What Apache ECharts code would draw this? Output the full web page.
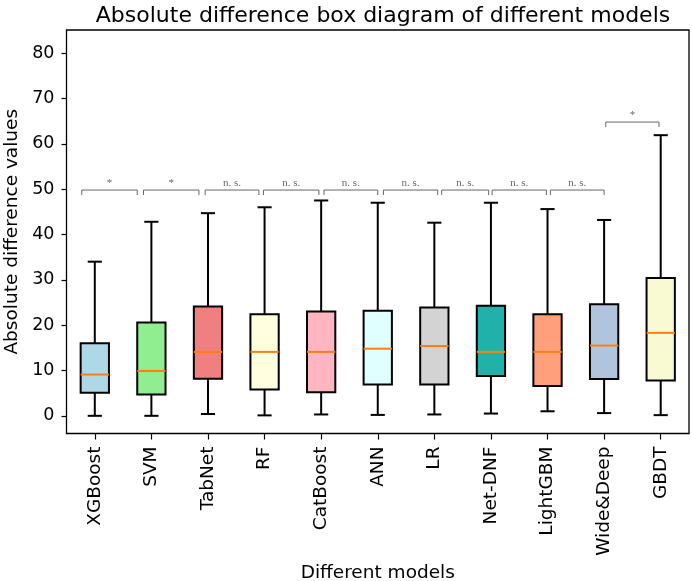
<!DOCTYPE html>
<html>
<head>
    <meta charset="UTF-8">
    <script src="https://cdn.jsdelivr.net/npm/echarts@6/dist/echarts.min.js"></script>
    <style>
        html, body { margin: 0; padding: 0; background: #fff; }
        #main { width: 692px; height: 581px; }
    </style>
</head>
<body>
<div id="main"></div>
<script>
    // models on the x axis
    var categories = ['XGBoost', 'SVM', 'TabNet', 'RF', 'CatBoost', 'ANN', 'LR', 'Net-DNF', 'LightGBM', 'Wide&Deep', 'GBDT'];
    // five-number summaries
    var whiskerLow  = [0.0, 0.0, 0.4, 0.1, 0.3, 0.2, 0.3, 0.5, 1.0, 0.6, 0.15];
    var q1Values    = [5.1, 4.7, 8.2, 5.8, 5.2, 6.9, 6.9, 8.8, 6.6, 8.1, 7.8];
    var medians     = [9.1, 9.9, 14.1, 14.1, 14.1, 14.8, 15.4, 14.1, 14.1, 15.5, 18.3];
    var q3Values    = [16.0, 20.6, 24.1, 22.4, 23.0, 23.2, 23.9, 24.3, 22.4, 24.6, 30.4];
    var whiskerHigh = [34.0, 42.8, 44.7, 46.0, 47.5, 47.0, 42.6, 47.0, 45.6, 43.2, 61.9];
    var boxColors   = ['#add8e6', '#90ee90', '#f08080', '#ffffe0', '#ffb6c1', '#e0ffff',
                       '#d3d3d3', '#20b2aa', '#ffa07a', '#b0c4de', '#fafad2'];

    // significance brackets (x in category index units)
    var bracketStart = [-0.23, 0.86, 1.95, 2.98, 4.05, 5.10, 6.13, 7.02, 8.05, 9.03];
    var bracketEnd   = [0.75, 1.84, 2.90, 3.96, 5.00, 6.06, 6.96, 7.98, 9.00, 9.97];
    var bracketLevel = [49.8, 49.8, 49.8, 49.8, 49.8, 49.8, 49.8, 49.8, 49.8, 64.8];
    var bracketText  = ['*', '*', 'n. s.', 'n. s.', 'n. s.', 'n. s.', 'n. s.', 'n. s.', 'n. s.', '*'];

    var yTicks = [0, 10, 20, 30, 40, 50, 60, 70, 80];

    var boxData = categories.map(function (c, i) {
        return [i, whiskerLow[i], q1Values[i], medians[i], q3Values[i], whiskerHigh[i]];
    });
    var bracketData = bracketStart.map(function (s, i) {
        return [s, bracketEnd[i], bracketLevel[i], bracketText[i]];
    });

    var lineW = 2;

    function renderBox(params, api) {
        var idx = api.value(0);
        var band = api.size([1, 0])[0];
        var half = band * 0.25;
        var capHalf = band * 0.125;
        var pLow = api.coord([idx, api.value(1)]);
        var pQ1 = api.coord([idx, api.value(2)]);
        var pMed = api.coord([idx, api.value(3)]);
        var pQ3 = api.coord([idx, api.value(4)]);
        var pHigh = api.coord([idx, api.value(5)]);
        var x = pLow[0];
        var black = {stroke: '#000', lineWidth: lineW, fill: null};
        return {
            type: 'group',
            children: [
                {type: 'line', shape: {x1: x, y1: pQ1[1], x2: x, y2: pLow[1]}, style: black},
                {type: 'line', shape: {x1: x, y1: pQ3[1], x2: x, y2: pHigh[1]}, style: black},
                {type: 'line', shape: {x1: x - capHalf, y1: pLow[1], x2: x + capHalf, y2: pLow[1]}, style: black},
                {type: 'line', shape: {x1: x - capHalf, y1: pHigh[1], x2: x + capHalf, y2: pHigh[1]}, style: black},
                {
                    type: 'rect',
                    shape: {x: x - half, y: pQ3[1], width: half * 2, height: pQ1[1] - pQ3[1]},
                    style: {fill: boxColors[idx], stroke: '#000', lineWidth: lineW}
                },
                {
                    type: 'line',
                    shape: {x1: x - half, y1: pMed[1], x2: x + half, y2: pMed[1]},
                    style: {stroke: '#ff7f0e', lineWidth: 2}
                }
            ]
        };
    }

    function renderBracket(params, api) {
        var a = api.coord([api.value(0), api.value(2)]);
        var b = api.coord([api.value(1), api.value(2)]);
        var drop = 5;
        var label = bracketText[params.dataIndex];
        return {
            type: 'group',
            children: [
                {
                    type: 'polyline',
                    shape: {points: [[a[0], a[1] + drop], [a[0], a[1]], [b[0], b[1]], [b[0], b[1] + drop]]},
                    style: {stroke: '#666', lineWidth: 1, fill: null}
                },
                {
                    type: 'text',
                    style: {
                        x: (a[0] + b[0]) / 2, y: a[1] - 1,
                        text: label, fill: '#666',
                        font: '11px "Liberation Serif", "DejaVu Serif", serif',
                        align: 'center', verticalAlign: 'bottom'
                    }
                }
            ]
        };
    }

    var chart = echarts.init(document.getElementById('main'));
    var option = {
        animation: false,
        backgroundColor: '#fff',
        textStyle: {fontFamily: 'DejaVu Sans'},
        title: {
            text: 'Absolute difference box diagram of different models',
            left: 378,
            textAlign: 'center',
            top: 0,
            textStyle: {fontSize: 22, fontWeight: 'normal', color: '#000', fontFamily: 'DejaVu Sans'}
        },
        grid: {
            left: 66.5, right: 3, top: 30, bottom: 147.5,
            containLabel: false,
            outerBoundsMode: 'none',
            show: true, borderColor: '#000', borderWidth: 1.3
        },
        xAxis: [
            {
                type: 'category',
                data: categories,
                boundaryGap: true,
                name: 'Different models',
                nameLocation: 'middle',
                nameGap: 129,
                nameTextStyle: {fontSize: 18.5, color: '#000'},
                axisLine: {show: false, onZero: false},
                axisTick: {show: true, alignWithLabel: true, length: 6, lineStyle: {color: '#000', width: 1.2}},
                axisLabel: {rotate: 90, fontSize: 18.5, color: '#000', margin: 13, interval: 0},
                splitLine: {show: false}
            },
            {
                type: 'value',
                min: -0.5,
                max: 10.5,
                show: false
            }
        ],
        yAxis: {
            type: 'value',
            min: -3.9,
            max: 85.1,
            name: 'Absolute difference values',
            nameLocation: 'middle',
            nameGap: 45,
            nameTextStyle: {fontSize: 18.5, color: '#000'},
            axisLine: {show: false, onZero: false},
            axisTick: {show: true, length: 5, customValues: yTicks, lineStyle: {color: '#000', width: 1.2}},
            axisLabel: {fontSize: 17.5, color: '#000', margin: 12, customValues: yTicks},
            splitLine: {show: false}
        },
        series: [
            {
                type: 'custom',
                xAxisIndex: 0,
                renderItem: renderBox,
                data: boxData,
                encode: {x: 0, y: [1, 2, 3, 4, 5]},
                z: 2
            },
            {
                type: 'custom',
                xAxisIndex: 1,
                renderItem: renderBracket,
                data: bracketData,
                encode: {x: [0, 1], y: 2},
                z: 3
            }
        ]
    };
    chart.setOption(option);
</script>
</body>
</html>
